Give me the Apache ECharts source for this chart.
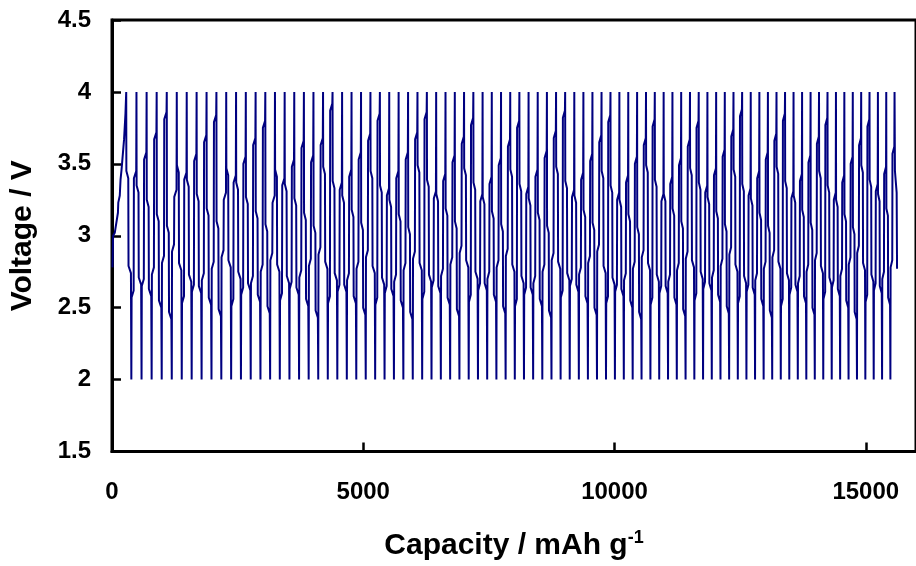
<!DOCTYPE html>
<html>
<head>
<meta charset="utf-8">
<script src="https://cdn.jsdelivr.net/npm/echarts@6/dist/echarts.min.js"></script>
<style>
  html, body { margin: 0; padding: 0; background: #fff; overflow: hidden; }
  #chart { width: 916px; height: 566px; }
</style>
</head>
<body>
<div id="chart"></div>
<script>
// Galvanostatic cycling between 2.0 V and 4.0 V, voltage against cumulative capacity.

// First charge from open circuit: [capacity mAh/g, voltage V]
const initialCharge = [
  [10, 2.78], [22, 3.0], [55, 3.02], [118, 3.16], [125, 3.23], [155, 3.28],
  [170, 3.39], [190, 3.46], [240, 3.67], [268, 3.85], [283, 4.0]
];

// Capacity of each half cycle (discharge and following charge), mAh/g
const halfCap = [
  102, 101, 100, 100.5, 99.5, 99, 98.5, 99, 98, 97.5, 98, 97, 97.5, 96.5,
  96, 96.5, 95.5, 96, 95, 95.5, 94.5, 95, 94, 94.5, 93.5, 94, 93, 93.5,
  94, 93.5, 93.5, 92.5, 93, 92.5, 92, 92.5, 92, 91.5, 92, 91.5, 91, 91.5,
  91, 91.5, 91, 90.5, 91, 90.5, 90, 90.5,
  89, 88.5, 88.5, 88, 88.5, 87.5, 88, 87.5, 87, 87.5, 87, 86.5, 87, 86,
  86.5, 86, 85.5, 86, 85, 85.5, 85, 84.5, 85, 84.5, 84, 84.5, 84, 83.5,
  84, 83.5, 83, 83.5, 83, 82.5
];

// Discharge: voltage at the upper and lower shoulders of each curve, V
const dKneeHi = [
  3.40, 3.30, 3.20, 3.10, 3.02, 3.44, 3.34, 3.24, 3.14, 3.05, 3.42, 3.32,
  3.22, 3.12, 3.03, 3.41, 3.31, 3.21, 3.11, 3.02, 3.43, 3.33, 3.23, 3.13,
  3.04, 3.40, 3.30, 3.20, 3.10, 3.01, 3.44, 3.34, 3.24, 3.14, 3.05, 3.42,
  3.32, 3.22, 3.12, 3.03, 3.41, 3.31, 3.21, 3.11, 3.02, 3.43, 3.33, 3.23,
  3.13, 3.04, 3.40, 3.30, 3.20, 3.10, 3.01, 3.44, 3.34, 3.24, 3.14, 3.05,
  3.42, 3.32, 3.22, 3.12, 3.03, 3.41, 3.31, 3.21, 3.11, 3.02, 3.43, 3.33,
  3.23, 3.13, 3.04, 3.40, 3.30, 3.20, 3.10, 3.01, 3.44, 3.34, 3.24, 3.14
];
const dKneeLo = [
  2.74, 2.66, 2.58, 2.50, 2.42, 2.76, 2.68, 2.60, 2.52, 2.44, 2.78, 2.70,
  2.62, 2.54, 2.46, 2.75, 2.67, 2.59, 2.51, 2.43, 2.77, 2.69, 2.61, 2.53,
  2.45, 2.74, 2.66, 2.58, 2.50, 2.42, 2.76, 2.68, 2.60, 2.52, 2.44, 2.78,
  2.70, 2.62, 2.54, 2.46, 2.75, 2.67, 2.59, 2.51, 2.43, 2.77, 2.69, 2.61,
  2.53, 2.45, 2.74, 2.66, 2.58, 2.50, 2.42, 2.76, 2.68, 2.60, 2.52, 2.44,
  2.78, 2.70, 2.62, 2.54, 2.46, 2.75, 2.67, 2.59, 2.51, 2.43, 2.77, 2.69,
  2.61, 2.53, 2.45, 2.74, 2.66, 2.58, 2.50, 2.42, 2.76, 2.68, 2.60, 2.52
];

// Charge: voltage at the lower and upper shoulders of each curve, V
const cKneeLo = [
  2.62, 2.70, 2.78, 2.86, 2.94, 2.58, 2.66, 2.74, 2.82, 2.90, 2.56, 2.64,
  2.72, 2.80, 2.88, 2.60, 2.68, 2.76, 2.84, 2.92, 2.58, 2.66, 2.74, 2.82,
  2.90, 2.57, 2.65, 2.73, 2.81, 2.89, 2.61, 2.69, 2.77, 2.85, 2.93, 2.59,
  2.67, 2.75, 2.83, 2.91, 2.56, 2.64, 2.72, 2.80, 2.88, 2.62, 2.70, 2.78,
  2.86, 2.94, 2.58, 2.66, 2.74, 2.82, 2.90, 2.57, 2.65, 2.73, 2.81, 2.89,
  2.60, 2.68, 2.76, 2.84, 2.92, 2.58, 2.66, 2.74, 2.82, 2.90, 2.56, 2.64,
  2.72, 2.80, 2.88, 2.61, 2.69, 2.77, 2.85, 2.93, 2.59, 2.67, 2.75, 2.83
];
const cKneeHi = [
  3.45, 3.58, 3.72, 3.86, 3.32, 3.44, 3.57, 3.70, 3.84, 3.30, 3.42, 3.55,
  3.68, 3.80, 3.28, 3.40, 3.53, 3.66, 3.56, 3.68, 3.92, 3.37, 3.46, 3.58,
  3.71, 3.85, 3.33, 3.45, 3.58, 3.72, 3.86, 3.31, 3.43, 3.56, 3.69, 3.82,
  3.29, 3.41, 3.54, 3.67, 3.80, 3.34, 3.46, 3.59, 3.73, 3.87, 3.32, 3.44,
  3.57, 3.70, 3.84, 3.30, 3.42, 3.55, 3.68, 3.81, 3.29, 3.41, 3.54, 3.67,
  3.80, 3.35, 3.47, 3.60, 3.74, 3.88, 3.33, 3.45, 3.58, 3.71, 3.85, 3.31,
  3.43, 3.56, 3.69, 3.82, 3.30, 3.42, 3.55, 3.68, 3.81, 3.36, 3.48, 3.62
];

// Last, interrupted discharge: [capacity after last charge, voltage]
const finalDischarge = [[8, 3.45], [42, 3.30], [50, 2.77]];

// Cut-off voltages
const V_MAX = 4.0, V_MIN = 2.0;

// Fraction of a half cycle at which each shoulder begins and ends
const dischargeFrac = [0.03, 0.40, 0.45, 0.92];
const chargeFrac = [0.05, 0.45, 0.50, 0.95];
// Voltage change across one shoulder, V
const shoulderDrop = 0.05;

const xTicks = [0, 5000, 10000, 15000];
const yTicks = [1.5, 2, 2.5, 3, 3.5, 4, 4.5];

// Assemble the continuous trace
const trace = initialCharge.map(p => p.slice());
let q = initialCharge[initialCharge.length - 1][0];
for (let i = 0; i < halfCap.length; i++) {
  const h = halfCap[i];
  trace.push([q + dischargeFrac[0] * h, dKneeHi[i] + shoulderDrop]);
  trace.push([q + dischargeFrac[1] * h, dKneeHi[i]]);
  trace.push([q + dischargeFrac[2] * h, dKneeLo[i] + shoulderDrop]);
  trace.push([q + dischargeFrac[3] * h, dKneeLo[i]]);
  trace.push([q + h, V_MIN]);
  q += h;
  trace.push([q + chargeFrac[0] * h, cKneeLo[i] - shoulderDrop]);
  trace.push([q + chargeFrac[1] * h, cKneeLo[i]]);
  trace.push([q + chargeFrac[2] * h, cKneeHi[i] - shoulderDrop]);
  trace.push([q + chargeFrac[3] * h, cKneeHi[i]]);
  trace.push([q + h, V_MAX]);
  q += h;
}
finalDischarge.forEach(([dq, v]) => trace.push([q + dq, v]));

const FONT = '"Liberation Sans", Arial, sans-serif';

const chart = echarts.init(document.getElementById('chart'), null, { renderer: 'canvas' });
chart.setOption({
  animation: false,
  backgroundColor: '#fff',
  grid: {
    left: 111, top: 20, width: 808, height: 432,
    show: true, borderColor: '#000', borderWidth: 3, backgroundColor: 'transparent'
  },
  xAxis: {
    type: 'value',
    min: xTicks[0], max: 16000, interval: 5000,
    axisLine: { lineStyle: { color: '#000', width: 3 } },
    axisTick: { inside: true, length: 9, lineStyle: { color: '#000', width: 2.5 } },
    splitLine: { show: false },
    axisLabel: {
      color: '#000', fontFamily: FONT, fontWeight: 'bold', fontSize: 24,
      margin: 29, showMaxLabel: false,
      formatter: v => String(v)
    },
    name: 'Capacity / mAh g{sup|-1}',
    nameLocation: 'middle',
    nameGap: 78,
    nameTextStyle: {
      color: '#000', fontFamily: FONT, fontWeight: 'bold', fontSize: 30,
      rich: {
        sup: { color: '#000', fontFamily: FONT, fontWeight: 'bold', fontSize: 18, verticalAlign: 'top', padding: [0, 0, 15, 0] }
      }
    }
  },
  yAxis: {
    type: 'value',
    min: yTicks[0], max: yTicks[yTicks.length - 1], interval: 0.5,
    axisLine: { lineStyle: { color: '#000', width: 3 } },
    axisTick: { inside: true, length: 9, lineStyle: { color: '#000', width: 2.5 } },
    splitLine: { show: false },
    axisLabel: {
      color: '#000', fontFamily: FONT, fontWeight: 'bold', fontSize: 24, margin: 21
    },
    name: 'Voltage / V',
    nameLocation: 'middle',
    nameGap: 74,
    nameRotate: 90,
    nameTextStyle: { color: '#000', fontFamily: FONT, fontWeight: 'bold', fontSize: 30 }
  },
  series: [{
    type: 'line',
    data: trace,
    showSymbol: false,
    silent: true,
    lineStyle: { color: '#000080', width: 2 },
    clip: true
  }]
});
</script>
</body>
</html>
